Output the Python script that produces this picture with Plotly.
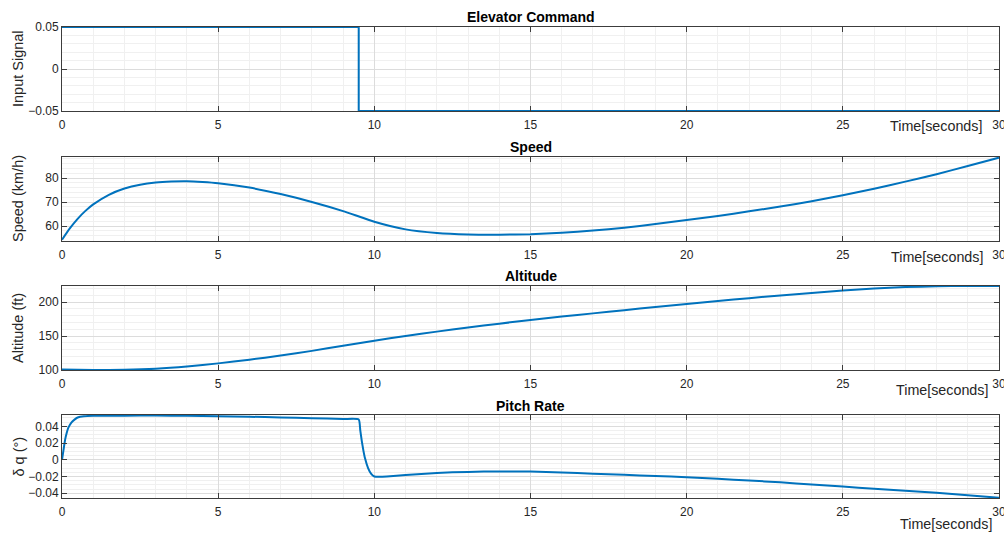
import plotly.graph_objects as go

# ---------------- data ----------------
t_elev = [0, 9.5, 30]
u_elev = [0.05, -0.05, -0.05]

t_speed = [0, 0.25, 0.5, 0.75, 1, 1.5, 2, 2.5, 3, 3.5, 4, 4.5, 5, 6, 7, 8, 9, 10,
           11, 12, 13, 14, 15, 16, 17, 18, 19, 20, 21, 22, 23, 24, 25, 26, 27, 28, 29, 30]
v_speed = [54.3, 59.0, 63.0, 66.3, 69.0, 73.0, 75.6, 77.2, 78.1, 78.5, 78.6, 78.3, 77.8,
           76.0, 73.3, 70.0, 66.2, 61.8, 58.6, 57.1, 56.5, 56.4, 56.6, 57.2, 58.1, 59.3,
           60.8, 62.5, 64.2, 66.1, 68.1, 70.3, 72.8, 75.5, 78.5, 81.6, 85.0, 88.5]

t_alt = [0, 1, 2, 3, 4, 5, 6, 7, 8, 9, 10, 11, 12, 13, 14, 15, 16, 17, 18, 19, 20,
         21, 22, 23, 24, 25, 26, 27, 28, 29, 30]
h_alt = [100.4, 99.8, 100.0, 101.5, 104.8, 109.5, 115.0, 121.0, 128.0, 135.5, 143.0,
         150.0, 156.5, 162.5, 168.3, 173.7, 178.7, 183.5, 188.2, 192.9, 197.4, 201.8,
         206.0, 210.0, 213.8, 217.3, 220.2, 222.4, 223.6, 224.0, 224.0]

t_q = [0, 0.05, 0.1, 0.15, 0.2, 0.3, 0.4, 0.5, 0.7, 1.0, 2, 3, 4, 5, 6, 7, 8, 9, 9.5,
       9.55, 9.6, 9.65, 9.7, 9.8, 9.9, 10.0, 10.15, 10.4, 11, 12, 13, 14, 15, 16, 17,
       18, 19, 20, 21, 22, 23, 24, 25, 26, 27, 28, 29, 30]
q_q = [0.0, 0.012, 0.024, 0.032, 0.038, 0.0445, 0.048, 0.0505, 0.052, 0.0525, 0.0527,
       0.0528, 0.0525, 0.052, 0.0514, 0.0506, 0.0497, 0.0487, 0.0482,
       0.035, 0.022, 0.011, 0.002, -0.010, -0.017, -0.0200, -0.0204, -0.0200, -0.0182,
       -0.0157, -0.0145, -0.0139, -0.0141, -0.0152, -0.0166, -0.0180, -0.0194, -0.0208,
       -0.0228, -0.0248, -0.0270, -0.0295, -0.0321, -0.0345, -0.0369, -0.0394, -0.0423,
       -0.0455]

titles = ["Elevator Command", "Speed", "Altitude", "Pitch Rate"]
ylabels = ["Input Signal", "Speed (km/h)", "Altitude (ft)", "δ q (°)"]
x_ticks = [0, 5, 10, 15, 20, 25, 30]

# ---------------- layout ----------------
W, H = 1004, 534
L, R = 62, 5
panels_px = [(27, 111), (157, 241), (286, 370), (415, 498)]
yranges = [[-0.05, 0.05], [53.75, 88.75], [99.7, 224.0], [-0.0457, 0.0535]]
ydticks = [0.05, 10, 50, 0.02]
yminor = [0.01, 2, 10, 0.005]
title_px = [17, 147, 276, 406]
time_px = [(936, 126), (937, 257), (942, 390), (946, 524)]

TXT = "#262626"
LINE = "#0072BD"
FONT = "Liberation Sans, Arial, Helvetica, sans-serif"

fig = go.Figure()
series = [(t_elev, u_elev, "hv"), (t_speed, v_speed, "spline"),
          (t_alt, h_alt, "spline"), (t_q, q_q, "spline")]

def py(px):
    return 1 - px / H

def px_x(px):
    return (px - L) / (W - L - R)

annotations = []
for i, ((tx, ty, shape), (top, bot)) in enumerate(zip(series, panels_px)):
    n = "" if i == 0 else str(i + 1)
    fig.add_trace(go.Scatter(x=tx, y=ty, mode="lines",
                             line=dict(color=LINE, width=2, shape=shape,
                                       smoothing=0.5 if shape == "spline" else None),
                             xaxis="x" + n, yaxis="y" + n, showlegend=False,
                             hoverinfo="skip"))
    common = dict(showline=True, linecolor="#3c3c3c", linewidth=1, mirror="ticks",
                  ticks="inside", ticklen=5, tickcolor="#3c3c3c", tickwidth=1,
                  showgrid=True, gridcolor="#dcdcdc", gridwidth=1, zeroline=False,
                  ticklabeloverflow="allow", automargin=False,
                  tickfont=dict(family=FONT, size=12, color=TXT))
    fig.layout["xaxis" + n] = dict(
        domain=[0, 1], anchor="y" + n, range=[0, 30], tickvals=x_ticks,
        ticktext=[str(v) for v in x_ticks], ticklabelstandoff=3,
        minor=dict(dtick=1, showgrid=True, gridcolor="#f0f0f0", ticks=""),
        **common)
    fig.layout["yaxis" + n] = dict(
        domain=[py(bot), py(top)], anchor="x" + n, range=yranges[i],
        dtick=ydticks[i], tick0=0,
        minor=dict(dtick=yminor[i], tick0=0, showgrid=True, gridcolor="#f0f0f0", ticks=""),
        **common)
    annotations.append(dict(text="<b>" + titles[i] + "</b>", xref="paper", yref="paper",
                            x=0.5, y=py(title_px[i]), xanchor="center", yanchor="middle",
                            showarrow=False, font=dict(family=FONT, size=14, color="#000000")))
    annotations.append(dict(text=ylabels[i], xref="paper", yref="paper",
                            x=px_x(18), y=py((top + bot) / 2), xanchor="center",
                            yanchor="middle", textangle=-90, showarrow=False,
                            font=dict(family=FONT, size=14.5, color=TXT)))
    annotations.append(dict(text="Time[seconds]", xref="paper", yref="paper",
                            x=px_x(time_px[i][0]), y=py(time_px[i][1]), xanchor="center",
                            yanchor="middle", showarrow=False,
                            font=dict(family=FONT, size=14.3, color=TXT)))

fig.update_layout(width=W, height=H, margin=dict(l=L, r=R, t=0, b=0, autoexpand=False),
                  paper_bgcolor="white", plot_bgcolor="white",
                  annotations=annotations, showlegend=False)

fig.write_html("out.html")
